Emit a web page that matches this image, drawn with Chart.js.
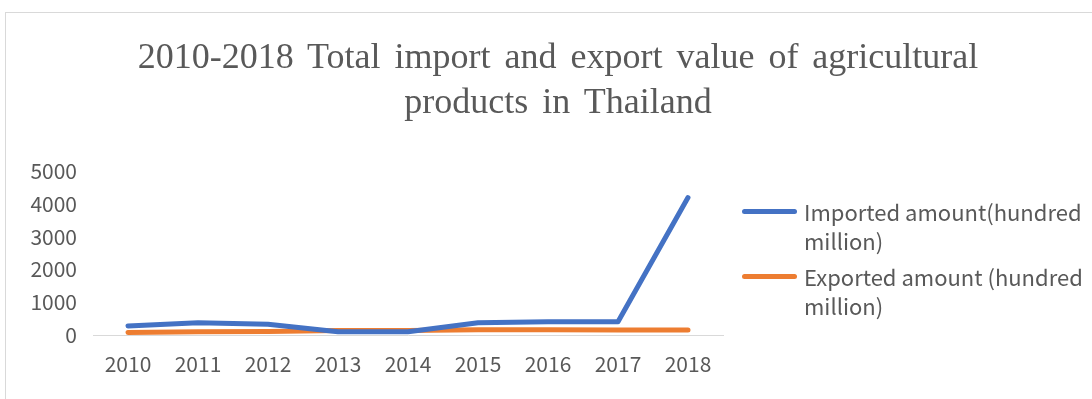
<!DOCTYPE html>
<html>
<head>
<meta charset="utf-8">
<script src="https://cdn.jsdelivr.net/npm/chart.js@4"></script>
<style>
  body { margin: 0; background: #fff; overflow: hidden; }
  #frame { position: absolute; left: 5px; top: 12px; width: 1087px; height: 387px;
           border-left: 1px solid #d9d9d9; border-top: 1px solid #d9d9d9; }
  #title { position: absolute; left: 0; top: 34px; width: 1116px; text-align: center;
           font-family: "Liberation Serif", serif; font-size: 36px; line-height: 45px;
           word-spacing: 5px; color: #595959; }
  #legend { position: absolute; left: 742px; top: 197px; font-family: "Noto Sans CJK SC", sans-serif;
            font-size: 22px; color: #595959; line-height: 29px; }
  .item { position: relative; padding-left: 62px; margin-bottom: 7px; width: 300px; }
  .swatch { position: absolute; left: 0; top: 12px; width: 55px; height: 5px; border-radius: 3px; }
</style>
</head>
<body>
<div id="frame"><canvas id="myChart"></canvas></div>
<div id="title"></div>
<div id="legend"></div>
<script>
var years = ["2010", "2011", "2012", "2013", "2014", "2015", "2016", "2017", "2018"];
var imported = [275, 375, 325, 100, 100, 375, 405, 405, 4190];
var exported = [80, 100, 110, 140, 140, 160, 160, 150, 150];
var seriesNames = ["Imported amount(hundred million)", "Exported amount (hundred million)"];
var seriesColors = ["#4472C4", "#ED7D31"];
var titleLines = ["2010-2018 Total import and export value of agricultural", "products in Thailand"];

var canvas = document.getElementById("myChart");
canvas.width = 1086;
canvas.height = 386;

var grey = "#595959";
var tickFont = { family: "'Noto Sans CJK SC', sans-serif", size: 21 };

function lineSet(name, values, color) {
  return {
    label: name,
    data: values,
    borderColor: color,
    backgroundColor: color,
    borderWidth: 5,
    pointRadius: 0,
    borderCapStyle: "round",
    borderJoinStyle: "round",
    tension: 0
  };
}

var myChart = new Chart(canvas, {
  type: "line",
  data: {
    labels: years,
    datasets: [
      lineSet(seriesNames[0], imported, seriesColors[0]),
      lineSet(seriesNames[1], exported, seriesColors[1])
    ]
  },
  options: {
    responsive: false,
    animation: false,
    layout: { padding: { left: 0, right: 369, top: 158, bottom: 0 } },
    plugins: {
      legend: { display: false },
      tooltip: { enabled: false }
    },
    scales: {
      x: {
        offset: true,
        grid: { display: false, tickLength: 0 },
        border: { display: true, color: "#d9d9d9", width: 1 },
        ticks: { color: grey, font: tickFont, padding: 16, maxRotation: 0 },
        afterFit: function(scale) { scale.height = 64; }
      },
      y: {
        min: 0,
        max: 5000,
        grid: { display: false },
        border: { display: false },
        ticks: {
          color: grey, font: tickFont, stepSize: 1000, padding: 8, autoSkip: false,
          callback: function(v) { return String(v); }
        },
        afterFit: function(scale) { scale.width = 87; }
      }
    }
  }
});

// title lines
var title = document.getElementById("title");
title.innerHTML = titleLines.join("<br>");

// legend with wrapped labels
var legend = document.getElementById("legend");
myChart.data.datasets.forEach(function(ds) {
  var item = document.createElement("div");
  item.className = "item";
  var sw = document.createElement("span");
  sw.className = "swatch";
  sw.style.background = ds.borderColor;
  item.appendChild(sw);
  item.appendChild(document.createTextNode(ds.label));
  legend.appendChild(item);
});
</script>
</body>
</html>
